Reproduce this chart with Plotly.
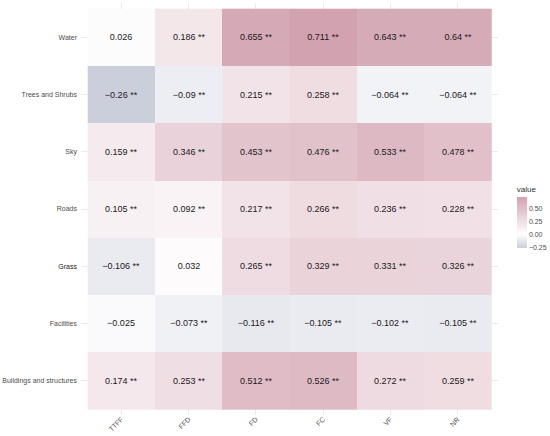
import plotly.graph_objects as go
import numpy as np

# столбцы и строки
metrics = ["TTFF", "FFD", "FD", "FC", "VF", "NR"]
features = ["Water", "Trees and Shrubs", "Sky", "Roads", "Grass", "Facilities",
            "Buildings and structures"]

# коэффициенты корреляции
water = [0.026, 0.186, 0.655, 0.711, 0.643, 0.64]
trees = [-0.26, -0.09, 0.215, 0.258, -0.064, -0.064]
sky = [0.159, 0.346, 0.453, 0.476, 0.533, 0.478]
roads = [0.105, 0.092, 0.217, 0.266, 0.236, 0.228]
grass = [-0.106, 0.032, 0.265, 0.329, 0.331, 0.326]
facilities = [-0.025, -0.073, -0.116, -0.105, -0.102, -0.105]
buildings = [0.174, 0.253, 0.512, 0.526, 0.272, 0.259]

# значимость
sig_water = ["", "**", "**", "**", "**", "**"]
sig_trees = ["**", "**", "**", "**", "**", "**"]
sig_sky = ["**", "**", "**", "**", "**", "**"]
sig_roads = ["**", "**", "**", "**", "**", "**"]
sig_grass = ["**", "", "**", "**", "**", "**"]
sig_facilities = ["", "**", "**", "**", "**", "**"]
sig_buildings = ["**", "**", "**", "**", "**", "**"]

z = [water, trees, sky, roads, grass, facilities, buildings]
sig = [sig_water, sig_trees, sig_sky, sig_roads, sig_grass, sig_facilities, sig_buildings]

def fmt(v, s):
    t = ("%g" % v).replace("-", "\u2212")
    return t + (" " + s if s else "")

text = [[fmt(v, s) for v, s in zip(row, srow)] for row, srow in zip(z, sig)]

# подпись Grass в оригинале темнее остальных
ylabels = ["<span style='color:#1a1a1a'>%s</span>" % f if f == "Grass" else f
           for f in features]

zmin, zmax = -0.26, 0.711
mid = (0 - zmin) / (zmax - zmin)
colorscale = [[0, "#cbcedb"], [mid, "#ffffff"], [1, "#d2a2b0"]]

fig = go.Figure()
fig.add_trace(go.Heatmap(
    x=metrics, y=features, z=z, text=text, texttemplate="%{text}",
    textfont=dict(size=9, color="#1a1a1a", family="Liberation Sans, Arial"),
    colorscale=colorscale, zmin=zmin, zmax=zmax, hoverinfo="skip",
    colorbar=dict(
        title=dict(text="value", side="top", font=dict(size=8, color="#333333")),
        tickvals=[-0.25, 0, 0.25, 0.5],
        ticktext=["\u22120.25", "0.00", "0.25", "0.50"],
        tickfont=dict(size=7, color="#4d4d4d"),
        ticks="", outlinewidth=0, thickness=10,
        lenmode="pixels", len=65, x=1.045, xanchor="left", xpad=0,
        y=0.484, yanchor="middle", ypad=0,
    ),
))

fig.update_xaxes(range=[-0.6, 5.6], showgrid=True, gridcolor="#ebebeb", gridwidth=1,
                 zeroline=False, tickangle=-45, ticks="", ticklabelstandoff=-2,
                 tickfont=dict(size=7, color="#4d4d4d"))
fig.update_yaxes(range=[6.6, -0.6], showgrid=True, gridcolor="#ebebeb", gridwidth=1,
                 zeroline=False, ticks="", ticklabelstandoff=3,
                 tickvals=features, ticktext=ylabels,
                 tickfont=dict(size=7, color="#4d4d4d"))

fig.update_layout(width=550, height=436, plot_bgcolor="white", paper_bgcolor="white",
                  font=dict(family="Liberation Sans, Arial"),
                  margin=dict(l=81, r=52, t=3, b=21, autoexpand=False))

# убрать отступ страницы, чтобы график начинался с (0, 0)
fig.write_html("out.html", config={"displayModeBar": False},
               post_script="document.body.style.margin='0';")
